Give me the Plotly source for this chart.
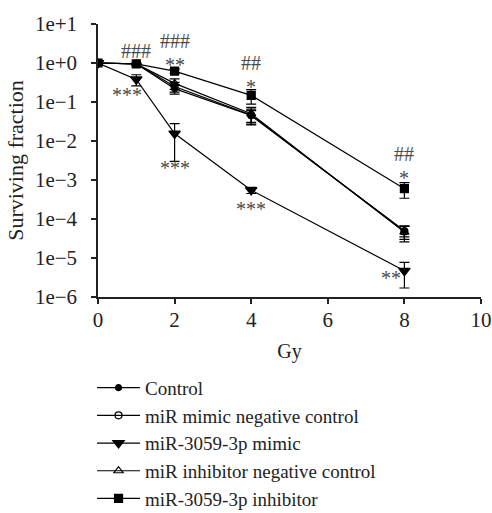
import plotly.graph_objects as go

doses = [0, 1, 2, 4, 8]

series_names = ["Control", "miR mimic negative control", "miR-3059-3p mimic",
                "miR inhibitor negative control", "miR-3059-3p inhibitor"]

control = [1.0, 0.95, 0.22, 0.045, 5.0e-5]
mimic_nc = [1.0, 0.95, 0.25, 0.046, 4.8e-5]
mimic = [1.0, 0.38, 0.0155, 5.5e-4, 4.7e-6]
inhib_nc = [1.0, 0.95, 0.30, 0.050, 4.6e-5]
inhib = [1.0, 0.95, 0.62, 0.148, 6.0e-4]

control_err = [0.0, 0.03, 0.06, 0.015, 1.5e-5]
mimic_nc_err = [0.0, 0.03, 0.07, 0.02, 1.8e-5]
mimic_err = [0.0, 0.12, 0.0125, 1.0e-4, 3.0e-6]
inhib_nc_err = [0.0, 0.03, 0.09, 0.023, 2.0e-5]
inhib_err = [0.0, 0.05, 0.08, 0.06, 2.6e-4]

symbols = ["circle", "circle-open", "triangle-down", "triangle-up-open", "square"]
sizes = [6, 7, 10, 8, 8]

# significance marks: x (Gy), log10 y, text, vertical anchor
sig_x = [1, 0.75, 2, 2, 2, 4, 4, 4, 8, 8, 7.65]
sig_logy = [0.31, -0.82, 0.25, 0.25, -2.69, -0.30, -0.30, -3.74, -2.64, -2.64, -5.52]
sig_text = ["###", "***", "###", "**", "***", "##", "*", "***", "##", "*", "**"]
sig_anchor = ["middle", "middle", "bottom", "top", "middle", "bottom", "top",
              "middle", "bottom", "top", "middle"]

FONT = "Liberation Serif"
INK = "#222222"

fig = go.Figure()
all_vals = [control, mimic_nc, mimic, inhib_nc, inhib]
all_err = [control_err, mimic_nc_err, mimic_err, inhib_nc_err, inhib_err]
for name, vals, err, sym, sz in zip(series_names, all_vals, all_err, symbols, sizes):
    fig.add_trace(go.Scatter(
        x=doses, y=vals, name=name, mode="lines+markers",
        line=dict(color="black", width=1.2),
        marker=dict(symbol=sym, size=sz, color="black",
                    line=dict(color="black", width=1.2)),
        error_y=dict(type="data", array=err, visible=True, color="black",
                     thickness=1.2, width=5),
    ))

for sx, sy, st, sa in zip(sig_x, sig_logy, sig_text, sig_anchor):
    fig.add_annotation(x=sx, y=sy, text=st, showarrow=False, xref="x", yref="y",
                       yanchor=sa, borderpad=0,
                       font=dict(family=FONT, size=20, color="#4a4a4a"))

fig.update_layout(
    width=492, height=513,
    margin=dict(l=98, r=11, t=24, b=216, autoexpand=False),
    paper_bgcolor="white", plot_bgcolor="white",
    font=dict(family=FONT, size=20, color=INK),
    showlegend=True,
    legend=dict(x=-0.0156, y=-0.263, xanchor="left", yanchor="top",
                font=dict(family=FONT, size=19, color=INK),
                bgcolor="rgba(0,0,0,0)", tracegroupgap=0, itemwidth=43),
)
fig.update_xaxes(range=[0, 10], tickvals=[0, 2, 4, 6, 8, 10],
                 showline=True, linecolor=INK, linewidth=1.5,
                 ticks="outside", ticklen=5, tickcolor=INK, tickwidth=1.5,
                 ticklabelstandoff=-2, tickfont=dict(family=FONT, size=21, color=INK),
                 showgrid=False, zeroline=False,
                 title=dict(text="Gy", font=dict(family=FONT, size=20, color=INK), standoff=13))
fig.update_yaxes(type="log", range=[-6, 1],
                 tickvals=[1e-6, 1e-5, 1e-4, 1e-3, 1e-2, 1e-1, 1, 10],
                 ticktext=["1e\u22126", "1e\u22125", "1e\u22124", "1e\u22123",
                           "1e\u22122", "1e\u22121", "1e+0", "1e+1"],
                 showline=True, linecolor=INK, linewidth=1.5,
                 ticks="outside", ticklen=5, tickcolor=INK, tickwidth=1.5,
                 ticklabelstandoff=10, tickfont=dict(family=FONT, size=21, color=INK),
                 showgrid=False, zeroline=False,
                 title=dict(text="Surviving fraction", font=dict(family=FONT, size=22, color=INK), standoff=5))

fig.write_html("out.html")
